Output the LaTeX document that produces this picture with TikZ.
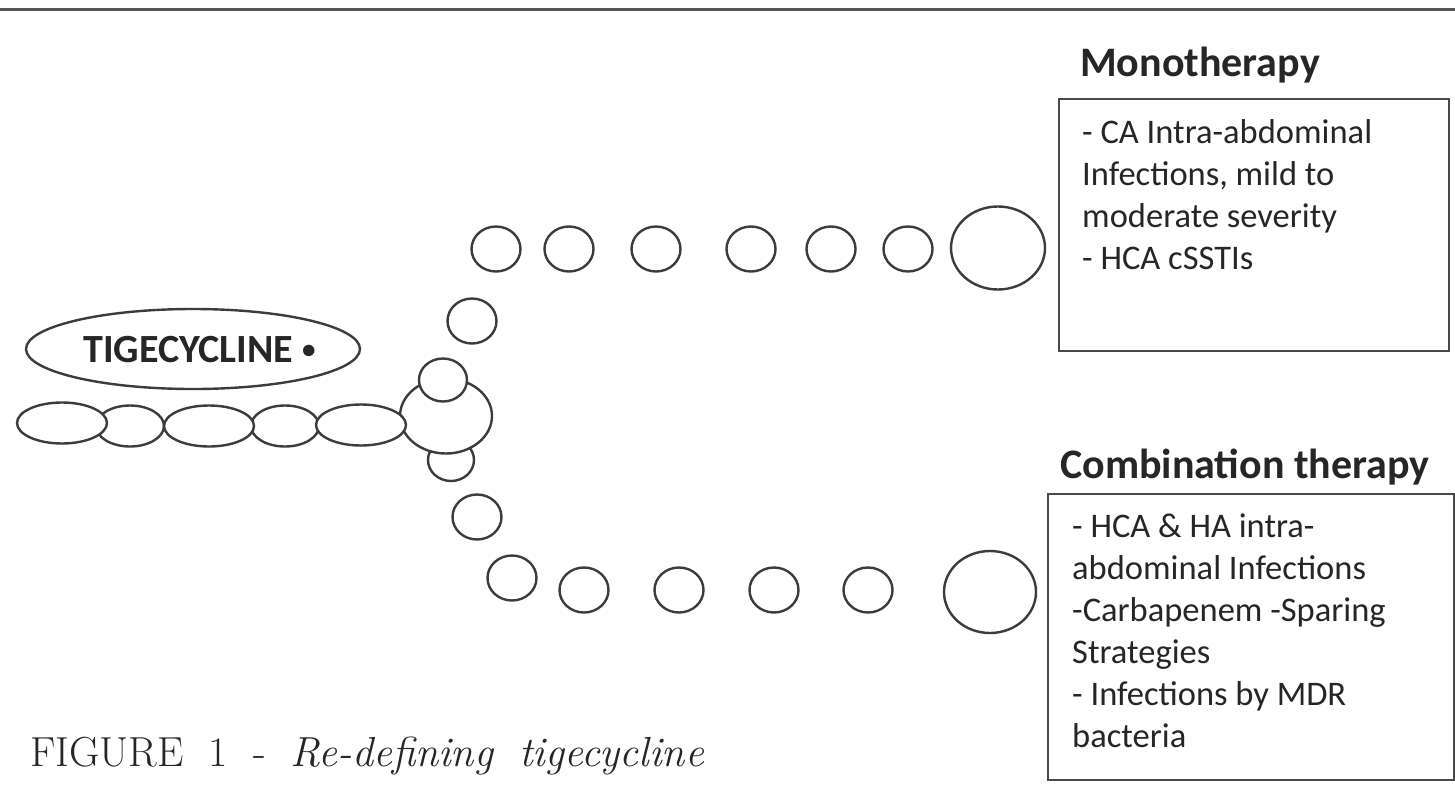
\documentclass[tikz,border=0pt]{standalone}
\usepackage{fontspec}
\newfontfamily\calfont{Carlito}
\usetikzlibrary{shapes.geometric}
\definecolor{ringgray}{HTML}{3C3C3C}
\definecolor{boxgray}{HTML}{4A4A4A}
\definecolor{linegray}{HTML}{555555}
\definecolor{textgray}{HTML}{262626}
\begin{document}
\begin{tikzpicture}[x=1pt,y=-1pt,
  ring/.style={ellipse, draw=ringgray, line width=2.4pt, fill=white, inner sep=0pt},
  small/.style={ring, minimum width=49pt, minimum height=45pt},
  link/.style={ring, minimum width=90pt, minimum height=41pt},
  shortlink/.style={ring, minimum width=68pt, minimum height=41pt},
  boxline/.style={draw=boxgray, line width=1.8pt, inner sep=0pt, anchor=north west},
  boxtext/.style={anchor=base west, inner sep=0pt, text=textgray, font=\calfont\fontsize{34.5}{42}\selectfont},
  titletext/.style={anchor=base west, inner sep=0pt, text=textgray, font=\calfont\bfseries\fontsize{42}{48}\selectfont}]
\useasboundingbox (0,0) rectangle (1455,784);
\fill[white] (0,0) rectangle (1455,784);
\coordinate (ruleL) at (0,10);
\coordinate (ruleR) at (1455,10);
\draw[line width=3pt, draw=linegray] (ruleL) -- (ruleR);

% TIGECYCLINE label
\node[ring, minimum width=334pt, minimum height=80pt] (tige) at (193,349) {};
\node[anchor=base west, inner sep=0pt, text=textgray, font=\calfont\bfseries\fontsize{40}{46}\selectfont] (tigetext) at (83,362) {TIGECYCLINE\hspace{9pt}\raisebox{4pt}{\fontsize{27}{30}\selectfont\textbullet}};

% chain
\node[shortlink] (e2) at (130,426) {};
\node[shortlink] (e4) at (285,426) {};
\node[link] (e1) at (62,423) {};
\node[link] (e3) at (209,426) {};
\node[ring, minimum width=46pt, minimum height=42pt] (jb) at (451,460) {};
\node[ring, minimum width=92pt, minimum height=75pt] (junction) at (446,416) {};
\node[link] (e5) at (361,425) {};
\node[ring, minimum width=48pt, minimum height=43pt] (jt) at (443,380) {};

% upper branch
\node[small] (u0) at (472,321) {};
\node[small] (u1) at (496,249) {};
\node[small] (u2) at (569,249) {};
\node[small] (u3) at (656,249) {};
\node[small] (u4) at (751,249) {};
\node[small] (u5) at (831,249) {};
\node[small] (u6) at (908,249) {};
\node[ring, minimum width=94pt, minimum height=83pt] (ubig) at (998,248) {};

% lower branch
\node[small] (d0) at (477,517) {};
\node[small] (d1) at (512,578) {};
\node[small] (d2) at (584,590) {};
\node[small] (d3) at (679,590) {};
\node[small] (d4) at (774,590) {};
\node[small] (d5) at (868,590) {};
\node[ring, minimum width=92pt, minimum height=82pt] (dbig) at (990,592) {};

% Monotherapy
\node[titletext] (monotitle) at (1080,76) {Monotherapy};
\node[boxline, minimum width=390pt, minimum height=252pt] (monobox) at (1058,98) {};
\node[boxtext] (monotext) at (1082,143) {\vtop{\hbox{- CA Intra-abdominal}\hbox{Infections, mild to}\hbox{moderate severity}\hbox{- HCA cSSTIs}}};

% Combination therapy
\node[titletext] (combtitle) at (1060,478) {Combination therapy};
\node[boxline, minimum width=406pt, minimum height=286pt] (combbox) at (1047,493) {};
\node[boxtext] (combtext) at (1072,537) {\vtop{\hbox{- HCA \& HA intra-}\hbox{abdominal Infections}\hbox{-Carbapenem -Sparing}\hbox{Strategies}\hbox{- Infections by MDR}\hbox{bacteria}}};

% caption
\node[anchor=base west, inner sep=0pt, text=textgray, font=\fontsize{42}{50}\selectfont] (caption) at (30,766) {\hbox to 674pt{FIGURE\hfill 1\hfill -\hfill \textit{Re-defining}\hfill \textit{tigecycline}}};
\end{tikzpicture}
\end{document}
